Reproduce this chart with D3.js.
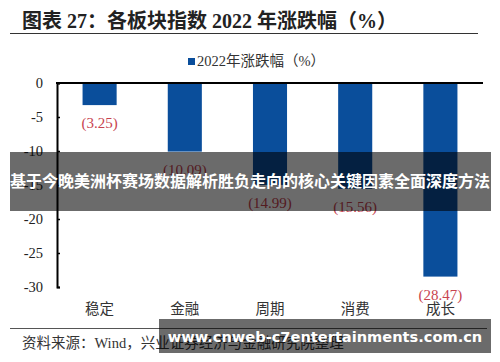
<!DOCTYPE html>
<html>
<head>
<meta charset="utf-8">
<script src="https://cdn.jsdelivr.net/npm/d3@7"></script>
<style>
  body { margin: 0; background: #fff; }
  svg { display: block; }
</style>
</head>
<body>
<svg id="chart" width="500" height="362"></svg>
<script>
// data
const sectors = ["稳定", "金融", "周期", "消费", "成长"];
const changes = [-3.25, -10.09, -14.99, -15.56, -28.47];
const yTicks = [0, -5, -10, -15, -20, -25, -30];

const svg = d3.select("svg#chart");
const serif = "'Liberation Serif', 'Noto Sans CJK SC', serif";
const barColor = "#0a4e9b";
const labelColor = "#c8434f";

// title + rule
svg.append("text")
  .attr("x", 22).attr("y", 28)
  .attr("font-family", serif)
  .attr("font-weight", "bold")
  .attr("font-size", 20)
  .attr("fill", "#222")
  .text("图表 27：各板块指数 2022 年涨跌幅（%）");
svg.append("line")
  .attr("x1", 10).attr("x2", 478)
  .attr("y1", 33.5).attr("y2", 33.5)
  .attr("stroke", "#333").attr("stroke-width", 1.2);

// legend
svg.append("rect")
  .attr("x", 188).attr("y", 58).attr("width", 7).attr("height", 7)
  .attr("fill", barColor);
svg.append("text")
  .attr("x", 197).attr("y", 66)
  .attr("font-family", serif)
  .attr("font-size", 14.5)
  .attr("fill", "#333")
  .text("2022年涨跌幅（%）");

const x = d3.scaleBand()
  .domain(sectors)
  .range([57, 483])
  .paddingInner(0.6)
  .paddingOuter(0.3);

const y = d3.scaleLinear()
  .domain([0, -30])
  .range([83, 287]);

// bars
svg.append("g")
  .selectAll("rect")
  .data(changes)
  .enter().append("rect")
    .attr("x", (d, i) => x(sectors[i]))
    .attr("width", x.bandwidth())
    .attr("y", y(0))
    .attr("height", d => y(d) - y(0))
    .attr("fill", barColor);

// value labels under each bar
svg.append("g")
  .selectAll("text")
  .data(changes)
  .enter().append("text")
    .attr("x", (d, i) => x(sectors[i]) + x.bandwidth() / 2)
    .attr("y", d => y(d) + 23)
    .attr("text-anchor", "middle")
    .attr("font-family", serif)
    .attr("font-size", 15)
    .attr("fill", labelColor)
    .text(d => "(" + Math.abs(d).toFixed(2) + ")");

// y axis
const yAxis = svg.append("g")
  .attr("transform", "translate(57,0)")
  .call(d3.axisLeft(y).tickValues(yTicks).tickFormat(d => String(d)).tickSize(-3).tickPadding(14));
yAxis.select(".domain").attr("stroke", "#000").attr("stroke-width", 2);
yAxis.selectAll(".tick line").attr("stroke", "#000").attr("stroke-width", 1.5);
yAxis.selectAll(".tick text")
  .attr("font-family", serif)
  .attr("font-size", 14.5)
  .attr("fill", "#222");

// zero line
svg.append("line")
  .attr("x1", 56).attr("x2", 483)
  .attr("y1", y(0)).attr("y2", y(0))
  .attr("stroke", "#000").attr("stroke-width", 2);

// category labels
svg.append("g")
  .selectAll("text")
  .data(sectors)
  .enter().append("text")
    .attr("x", d => x(d) + x.bandwidth() / 2)
    .attr("y", 314)
    .attr("text-anchor", "middle")
    .attr("font-family", serif)
    .attr("font-size", 14.5)
    .attr("fill", "#333")
    .text(d => d);

// bottom rule + source
svg.append("line")
  .attr("x1", 10).attr("x2", 487)
  .attr("y1", 328.5).attr("y2", 328.5)
  .attr("stroke", "#555").attr("stroke-width", 1);
svg.append("text")
  .attr("x", 22).attr("y", 348)
  .attr("font-family", serif)
  .attr("font-size", 14.5)
  .attr("fill", "#333")
  .text("资料来源：Wind，兴业证券经济与金融研究院整理");

// overlay banners
svg.append("rect")
  .attr("x", 10).attr("y", 152).attr("width", 481).attr("height", 59)
  .attr("fill", "#000").attr("fill-opacity", 0.58);
svg.append("text")
  .attr("x", 250).attr("y", 187)
  .attr("text-anchor", "middle")
  .attr("font-family", "'Noto Sans CJK SC', sans-serif")
  .attr("font-weight", "bold")
  .attr("font-size", 16)
  .attr("fill", "#fff")
  .text("基于今晚美洲杯赛场数据解析胜负走向的核心关键因素全面深度方法");

svg.append("rect")
  .attr("x", 159).attr("y", 319).attr("width", 332).attr("height", 34)
  .attr("fill", "#000").attr("fill-opacity", 0.58);
svg.append("text")
  .attr("x", 325).attr("y", 342)
  .attr("text-anchor", "middle")
  .attr("font-family", "'DejaVu Sans', sans-serif")
  .attr("font-weight", "bold")
  .attr("font-size", 14.6)
  .attr("fill", "#fff")
  .text("www.cnweb-c7entertainments.com.cn");
</script>
</body>
</html>
